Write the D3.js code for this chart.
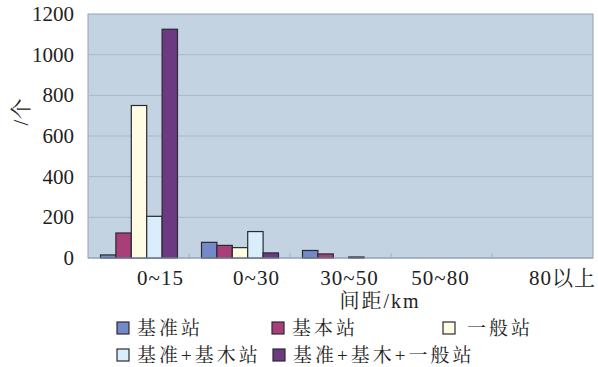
<!DOCTYPE html>
<html>
<head>
<meta charset="utf-8">
<script src="https://cdn.jsdelivr.net/npm/d3@7"></script>
<style>
  body { margin: 0; background: #fff; }
  #chart text { font-family: 'Liberation Serif', 'Noto Serif CJK SC', serif; }
</style>
</head>
<body>
<div id="chart"></div>
<script>
const categories = ["0~15", "0~30", "30~50", "50~80", "80以上"];
const seriesNames = ["基准站", "基本站", "一般站", "基准+基木站", "基准+基木+一般站"];
const seriesColors = ["#7489c8", "#a93f79", "#fefde2", "#d9eefa", "#6b3a80"];
// values per series, one per category
const values = [
  [15, 77, 37, 0, 0],
  [123, 62, 20, 0, 0],
  [750, 51, 0, 0, 0],
  [205, 130, 5, 0, 0],
  [1125, 25, 0, 0, 0],
];
const yTicks = [0, 200, 400, 600, 800, 1000, 1200];
// label nudges, as in the original figure
const labelShift = [22, 17, 9, -1, 20];

const width = 598, height = 367;
const margin = { top: 14, right: 5, bottom: 109, left: 88 };

const svg = d3.select("#chart").append("svg")
  .attr("width", width).attr("height", height)
  .attr("fill", "#222");

const x = d3.scaleBand().domain(categories)
  .range([margin.left, width - margin.right]).paddingInner(0).paddingOuter(0);
const inner = d3.scaleBand().domain(d3.range(seriesNames.length))
  .range([12.5, x.bandwidth() - 11.5]);
const y = d3.scaleLinear().domain([0, 1200]).range([height - margin.bottom, margin.top]);

svg.append("rect")
  .attr("x", margin.left).attr("y", margin.top)
  .attr("width", width - margin.left - margin.right)
  .attr("height", y(0) - margin.top)
  .attr("fill", "#c3d3e2").attr("stroke", "#8fa3b8").attr("stroke-width", 1);

svg.append("g").selectAll("line").data(yTicks.slice(1, -1)).join("line")
  .attr("x1", margin.left).attr("x2", width - margin.right)
  .attr("y1", (d) => y(d)).attr("y2", (d) => y(d))
  .attr("stroke", "#a7b9cc").attr("stroke-width", 1);

svg.append("g").selectAll("text").data(yTicks).join("text")
  .attr("x", 74).attr("y", (d) => y(d) + 7)
  .attr("text-anchor", "end")
  .attr("font-size", 21)
  .text((d) => d);

// category boundary ticks
svg.append("g").selectAll("line").data(categories.slice(1)).join("line")
  .attr("x1", (d) => x(d)).attr("x2", (d) => x(d))
  .attr("y1", y(0) - 5).attr("y2", y(0))
  .attr("stroke", "#9fb2c5");

const groups = svg.append("g").selectAll("g").data(categories).join("g")
  .attr("transform", (d) => `translate(${x(d)},0)`);

groups.selectAll("rect")
  .data((c, ci) => values.map((s, si) => ({ si, v: s[ci] })).filter((d) => d.v > 0))
  .join("rect")
  .attr("x", (d) => inner(d.si)).attr("width", inner.bandwidth())
  .attr("y", (d) => y(d.v)).attr("height", (d) => y(0) - y(d.v))
  .attr("fill", (d) => seriesColors[d.si])
  .attr("stroke", "#2a2a33").attr("stroke-width", 1.2);

svg.append("line")
  .attr("x1", margin.left).attr("x2", width - margin.right)
  .attr("y1", y(0)).attr("y2", y(0))
  .attr("stroke", "#8fa3b8");

svg.append("g").selectAll("text").data(categories).join("text")
  .attr("x", (d, i) => x(d) + x.bandwidth() / 2 + labelShift[i])
  .attr("y", 285)
  .attr("text-anchor", "middle")
  .attr("font-size", 21)
  .attr("letter-spacing", 1)
  .text((d) => d);

svg.append("text")
  .attr("x", 380).attr("y", 308)
  .attr("text-anchor", "middle")
  .attr("font-size", 20)
  .attr("letter-spacing", 2)
  .text("间距/km");

svg.append("text")
  .attr("transform", "translate(28,112) rotate(-90)")
  .attr("text-anchor", "middle")
  .attr("font-size", 21)
  .text("/个");

const legendPos = [[117, 328], [272, 328], [443, 328], [117, 355], [273, 355]];
const legend = svg.append("g").selectAll("g").data(seriesNames).join("g")
  .attr("transform", (d, i) => `translate(${legendPos[i][0]},${legendPos[i][1]})`);
legend.append("rect")
  .attr("x", 0).attr("y", -6).attr("width", 12).attr("height", 12)
  .attr("fill", (d, i) => seriesColors[i])
  .attr("stroke", "#2a2a33").attr("stroke-width", 1.2);
legend.append("text")
  .attr("x", (d, i) => (i === 2 ? 24 : 20)).attr("y", 7)
  .attr("font-size", 19)
  .attr("letter-spacing", 3)
  .text((d) => d);
</script>
</body>
</html>
